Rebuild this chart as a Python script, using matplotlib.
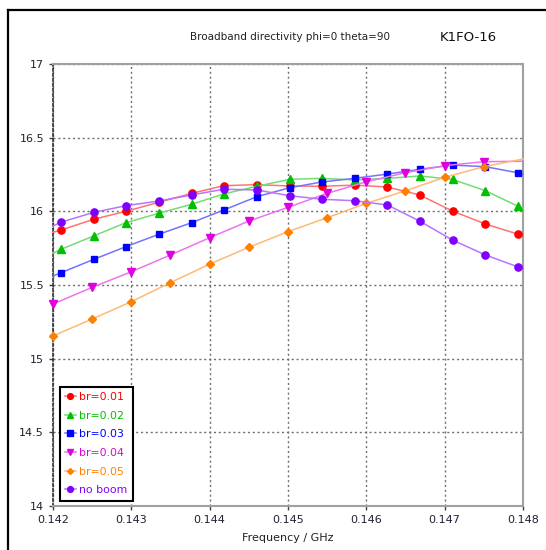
import numpy as np
import matplotlib
matplotlib.use('Agg')
import matplotlib.pyplot as plt
from matplotlib.colors import to_rgb
from matplotlib.lines import Line2D

# marker frequencies for the first four curves (line runs edge to edge)
freq_a = [0.142, 0.1421, 0.14252, 0.14293, 0.14335, 0.14377, 0.14418, 0.1446, 0.14502,
          0.14543, 0.14585, 0.14627, 0.14668, 0.1471, 0.14752, 0.14793, 0.148]
# frequencies for br=0.04 / br=0.05
freq_b = [0.142, 0.1425, 0.143, 0.1435, 0.144, 0.1445, 0.145, 0.1455, 0.146,
          0.1465, 0.147, 0.1475, 0.148]

br_001 = [15.858, 15.873, 15.946, 16.000, 16.061, 16.122, 16.174, 16.181, 16.172,
          16.170, 16.178, 16.165, 16.111, 16.002, 15.914, 15.846, 15.833]
br_002 = [15.715, 15.742, 15.833, 15.923, 15.987, 16.048, 16.118, 16.170, 16.217,
          16.224, 16.213, 16.224, 16.240, 16.217, 16.140, 16.036, 16.018]
br_003 = [15.561, 15.583, 15.674, 15.760, 15.844, 15.923, 16.009, 16.099, 16.160,
          16.199, 16.224, 16.253, 16.285, 16.314, 16.303, 16.262, 16.253]
no_boom = [15.900, 15.926, 15.993, 16.038, 16.070, 16.111, 16.150, 16.145, 16.106,
           16.082, 16.072, 16.043, 15.934, 15.805, 15.704, 15.624, 15.609]
br_004 = [15.371, 15.484, 15.590, 15.704, 15.821, 15.934, 16.027, 16.122, 16.201,
          16.262, 16.310, 16.337, 16.340]
br_005 = [15.154, 15.269, 15.387, 15.516, 15.642, 15.756, 15.862, 15.957, 16.054,
          16.140, 16.231, 16.303, 16.355]

x_ticks = [0.142, 0.143, 0.144, 0.145, 0.146, 0.147, 0.148]
y_ticks = [14, 14.5, 15, 15.5, 16, 16.5, 17]

series = [
    ('br=0.01', freq_a, br_001, '#ff0000', 'o', 5.2, slice(1, -1)),
    ('br=0.02', freq_a, br_002, '#00c000', '^', 5.6, slice(1, -1)),
    ('br=0.03', freq_a, br_003, '#0000ff', 's', 4.8, slice(1, -1)),
    ('br=0.04', freq_b, br_004, '#e000e0', 'v', 5.6, slice(0, -1)),
    ('br=0.05', freq_b, br_005, '#ff8000', 'D', 3.8, slice(0, -1)),
    ('no boom', freq_a, no_boom, '#8000ff', 'o', 5.2, slice(1, -1)),
]


def lighten(c, k=0.45):
    r, g, b = to_rgb(c)
    return (r + (1 - r) * k, g + (1 - g) * k, b + (1 - b) * k)


fig = plt.figure(figsize=(5.46, 5.5), dpi=100)
ax = fig.add_axes([53 / 546, 44 / 550, 470 / 546, 442 / 550])

handles = []
for name, xs, ys, col, mk, ms, every in series:
    ax.plot(xs, ys, color=lighten(col), lw=1.1, marker=mk, ms=ms,
            mfc=col, mec=col, markevery=every, clip_on=False, zorder=3)
    handles.append(Line2D([], [], color=lighten(col), lw=1.1, marker=mk, ms=ms * 0.8,
                          mfc=col, mec=col))

ax.set_xlim(0.142, 0.148)
ax.set_ylim(14, 17)
ax.set_xticks(x_ticks)
ax.set_xticklabels(['%.3f' % v for v in x_ticks])
ax.set_yticks(y_ticks)
ax.set_yticklabels(['%g' % v for v in y_ticks])
ax.tick_params(labelsize=8, colors='#404040', labelcolor='#202030', length=3, width=1)
ax.grid(True, color='#707070', linestyle=(0, (1.5, 2)), linewidth=1)
ax.set_axisbelow(True)
for s in ['top', 'right', 'bottom']:
    ax.spines[s].set_color('#a0a0a0')
    ax.spines[s].set_linewidth(1.5)
ax.spines['left'].set_color('#303030')
ax.spines['left'].set_linestyle((0, (1.5, 1.5)))
ax.spines['left'].set_linewidth(1.2)
ax.set_xlabel('Frequency / GHz', fontsize=8, color='#202020', labelpad=6)

leg = ax.legend(handles, [s[0] for s in series], loc='lower left',
                bbox_to_anchor=(0.014, 0.012), borderaxespad=0, fontsize=7.8,
                fancybox=False, framealpha=1, edgecolor='black',
                handlelength=1.0, handletextpad=0.3, labelspacing=0.8,
                borderpad=0.5)
leg.get_frame().set_linewidth(1.5)
for txt, s in zip(leg.get_texts(), series):
    txt.set_color(s[3])

fig.text(0.531, 0.933, 'Broadband directivity phi=0 theta=90', fontsize=7.5,
         color='#202020', ha='center', va='center')
fig.text(0.857, 0.932, 'K1FO-16', fontsize=9.5, color='#101010', ha='center', va='center')

# window border on the left and top
fig.add_artist(Line2D([8 / 546, 1], [1 - 10 / 550, 1 - 10 / 550], color='black', lw=1.6))
fig.add_artist(Line2D([8 / 546, 8 / 546], [0, 1 - 10 / 550], color='black', lw=1.6))

fig.savefig('out.png', dpi=100)
